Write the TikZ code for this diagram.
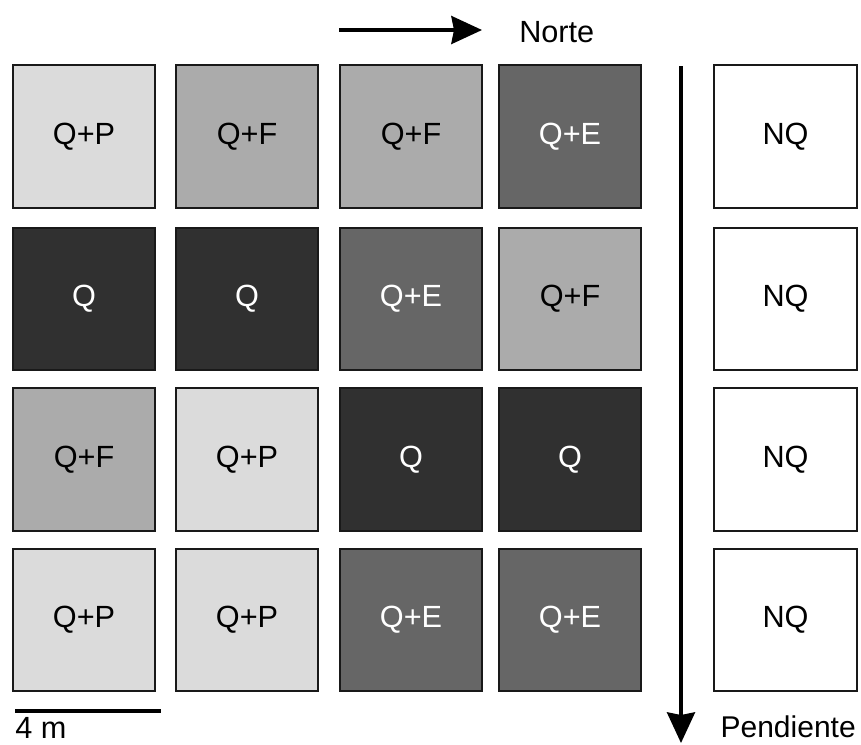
\documentclass[tikz,border=0pt]{standalone}
\usepackage{fontspec}
\setmainfont{Liberation Sans}
\usetikzlibrary{arrows.meta}

\begin{document}
\begin{tikzpicture}[
  x=0.75pt, y=-0.75pt,
  font=\fontsize{23}{27}\selectfont,
  plot/.style={draw=black!90, line width=1.3pt, minimum size=107pt, inner sep=0pt},
  qp/.style={plot, fill=black!14},
  qf/.style={plot, fill=black!33},
  qe/.style={plot, fill=black!60, text=white},
  qq/.style={plot, fill=black!81, text=white},
  nq/.style={plot, fill=white},
  dir/.style={line width=2.5pt, -{Stealth[length=23pt, width=21pt, inset=2pt]}}]

\useasboundingbox (0,0) rectangle (861,744);

% parcels, row by row
\node[qp] (a1) at (84,136.5) {Q+P};
\node[qf] (a2) at (247,136.5) {Q+F};
\node[qf] (a3) at (411,136.5) {Q+F};
\node[qe] (a4) at (570,136.5) {Q+E};
\node[nq] (a5) at (785.5,136.5) {NQ};

\node[qq] (b1) at (84,299) {Q};
\node[qq] (b2) at (247,299) {Q};
\node[qe] (b3) at (411,299) {Q+E};
\node[qf] (b4) at (570,299) {Q+F};
\node[nq] (b5) at (785.5,299) {NQ};

\node[qf] (c1) at (84,459.5) {Q+F};
\node[qp] (c2) at (247,459.5) {Q+P};
\node[qq] (c3) at (411,459.5) {Q};
\node[qq] (c4) at (570,459.5) {Q};
\node[nq] (c5) at (785.5,459.5) {NQ};

\node[qp] (d1) at (84,620) {Q+P};
\node[qp] (d2) at (247,620) {Q+P};
\node[qe] (d3) at (411,620) {Q+E};
\node[qe] (d4) at (570,620) {Q+E};
\node[nq] (d5) at (785.5,620) {NQ};

% directions
\coordinate (n0) at (339,30);
\coordinate (n1) at (482,30);
\draw[dir] (n0) -- (n1);
\node[anchor=west, inner sep=0pt] (norte) at (519,32) {Norte};

\coordinate (p0) at (681,66);
\coordinate (p1) at (681,743);
\draw[dir] (p0) -- (p1);
\node[anchor=east, inner sep=0pt, font=\fontsize{22.5}{27}\selectfont] (pend) at (856,727) {Pendiente};

% scale bar
\coordinate (s0) at (15,711);
\coordinate (s1) at (161,711);
\draw[line width=3pt] (s0) -- (s1);
\node[anchor=west, inner sep=0pt] (esc) at (15,728) {4 m};
\end{tikzpicture}
\end{document}
